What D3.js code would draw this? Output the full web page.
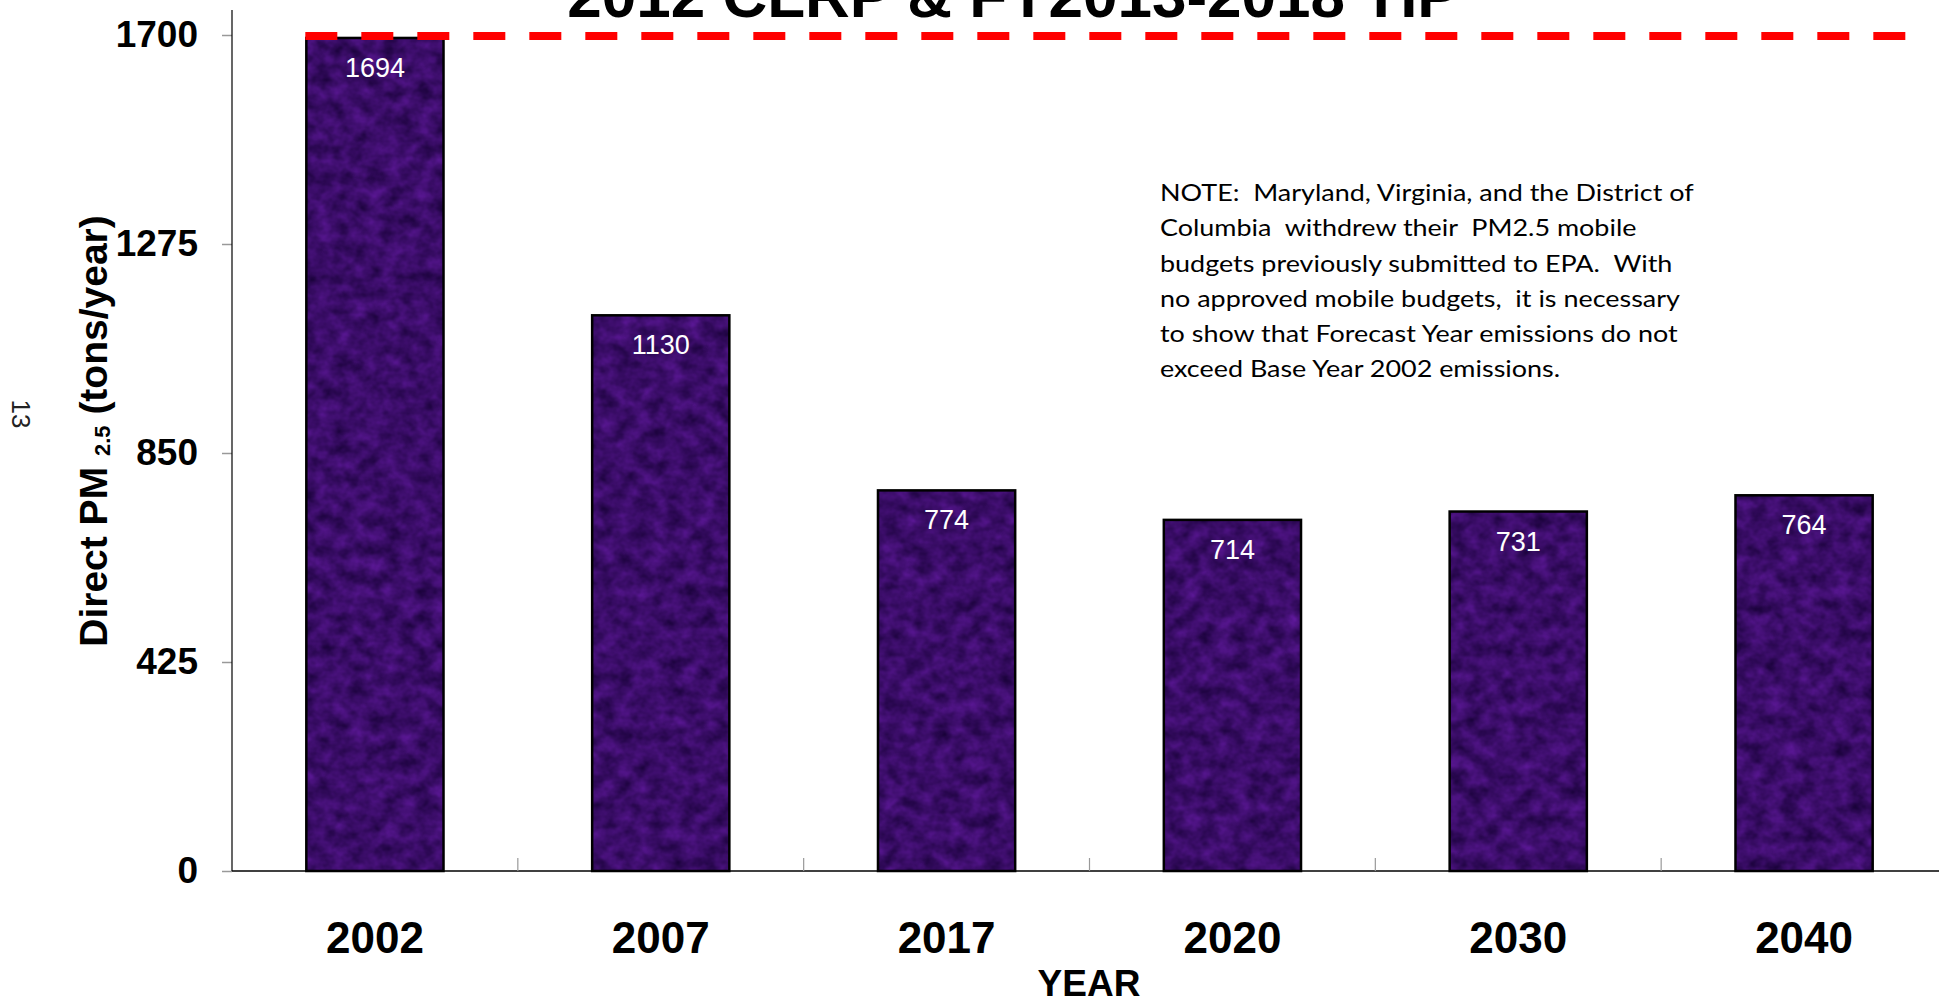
<!DOCTYPE html>
<html lang="en">
<head>
    <meta charset="UTF-8">
    <title>Direct PM2.5 emissions</title>
    <script src="https://d3js.org/d3.v7.min.js"></script>
    <style>
        body {
            margin: 0;
            background: white;
        }
        svg {
            display: block;
        }
        text {
            font-family: "Liberation Sans", Arial, sans-serif;
        }
    </style>
</head>
<body>
    <div id="chart"></div>

    <script>
        // chart values
        const years = ["2002", "2007", "2017", "2020", "2030", "2040"];
        const emissions = [1694, 1130, 774, 714, 731, 764];
        const yTicks = [0, 425, 850, 1275, 1700];
        const baseYearLine = 1698;
        const titleText = "2012 CLRP & FY2013-2018 TIP";
        const noteLines = [
            "NOTE:  Maryland, Virginia, and the District of",
            "Columbia  withdrew their  PM2.5 mobile",
            "budgets previously submitted to EPA.  With",
            "no approved mobile budgets,  it is necessary",
            "to show that Forecast Year emissions do not",
            "exceed Base Year 2002 emissions."
        ];

        const width = 1939;
        const height = 1001;
        // plot runs a little past the right edge of the page, like the original slide
        const plotLeft = 232, plotRight = 1947, plotTop = 35, plotBottom = 871;

        const svg = d3.select("#chart")
                      .append("svg")
                      .attr("width", width)
                      .attr("height", height);

        // purple mottled texture for the bars
        const defs = svg.append("defs");
        const filter = defs.append("filter")
            .attr("id", "purpleTexture")
            .attr("x", 0).attr("y", 0).attr("width", 1).attr("height", 1)
            .attr("color-interpolation-filters", "sRGB");
        filter.append("feTurbulence")
            .attr("type", "fractalNoise")
            .attr("baseFrequency", "0.06 0.07")
            .attr("numOctaves", 3)
            .attr("seed", 7)
            .attr("result", "noise");
        filter.append("feColorMatrix")
            .attr("in", "noise")
            .attr("type", "matrix")
            .attr("values", "0.3 0 0 0 0.08  0.1 0 0 0 0.0  0.42 0 0 0 0.2  0 0 0 0 1")
            .attr("result", "tinted");
        filter.append("feComposite")
            .attr("in", "tinted")
            .attr("in2", "SourceGraphic")
            .attr("operator", "in");

        const x = d3.scaleBand()
                    .domain(years)
                    .range([plotLeft, plotRight])
                    .paddingInner(0.52)
                    .paddingOuter(0.26);

        const y = d3.scaleLinear()
                    .domain([0, 1700])
                    .range([plotBottom, plotTop]);

        // title (top part is cut off by the page edge)
        svg.append("text")
           .attr("x", 1013)
           .attr("y", 17)
           .attr("text-anchor", "middle")
           .style("font-size", "62px")
           .style("font-weight", "bold")
           .text(titleText);

        // y axis
        const yAxis = svg.append("g")
            .attr("transform", `translate(${plotLeft},0)`)
            .call(d3.axisLeft(y).tickValues(yTicks).tickSize(10).tickPadding(24).tickFormat(d3.format("d")));
        yAxis.select(".domain").remove();
        yAxis.selectAll(".tick line").attr("stroke", "#999").attr("stroke-width", 1.5);
        yAxis.selectAll(".tick text")
             .attr("fill", "black")
             .style("font-size", "37px")
             .style("font-weight", "bold");
        svg.append("line")
           .attr("x1", plotLeft).attr("x2", plotLeft)
           .attr("y1", 10).attr("y2", plotBottom)
           .attr("stroke", "black").attr("stroke-width", 1.2);

        // bars
        const bars = svg.append("g")
            .selectAll("g")
            .data(years.map((yr, i) => ({ year: yr, value: emissions[i] })))
            .enter()
            .append("g");

        bars.append("rect")
            .attr("x", d => x(d.year))
            .attr("y", d => y(d.value))
            .attr("width", x.bandwidth())
            .attr("height", d => plotBottom - y(d.value))
            .attr("fill", "#3e1080")
            .attr("filter", "url(#purpleTexture)");

        bars.append("rect")
            .attr("x", d => x(d.year))
            .attr("y", d => y(d.value))
            .attr("width", x.bandwidth())
            .attr("height", d => plotBottom - y(d.value))
            .attr("fill", "none")
            .attr("stroke", "black")
            .attr("stroke-width", 2.5);

        bars.append("text")
            .attr("x", d => x(d.year) + x.bandwidth() / 2)
            .attr("y", d => y(d.value) + 39)
            .attr("text-anchor", "middle")
            .attr("fill", "white")
            .style("font-size", "27px")
            .text(d => d.value);

        // x axis line and the little dividers between categories
        svg.append("line")
           .attr("x1", plotLeft).attr("x2", width)
           .attr("y1", plotBottom).attr("y2", plotBottom)
           .attr("stroke", "black").attr("stroke-width", 1.5);

        const step = x.step();
        svg.append("g")
           .selectAll("line")
           .data(years.slice(1))
           .enter()
           .append("line")
           .attr("x1", d => x(d) - x.paddingInner() * step / 2)
           .attr("x2", d => x(d) - x.paddingInner() * step / 2)
           .attr("y1", plotBottom)
           .attr("y2", plotBottom - 13)
           .attr("stroke", "#999")
           .attr("stroke-width", 1.2);

        svg.append("g")
           .selectAll("text")
           .data(years)
           .enter()
           .append("text")
           .attr("x", d => x(d) + x.bandwidth() / 2)
           .attr("y", 953)
           .attr("text-anchor", "middle")
           .style("font-size", "44px")
           .style("font-weight", "bold")
           .text(d => d);

        svg.append("text")
           .attr("x", 1089)
           .attr("y", 996)
           .attr("text-anchor", "middle")
           .style("font-size", "37px")
           .style("font-weight", "bold")
           .text("YEAR");

        // y axis title with the subscript
        const yTitle = svg.append("text")
           .attr("transform", "translate(107,431) rotate(-90)")
           .attr("text-anchor", "middle")
           .style("font-size", "39px")
           .style("font-weight", "bold");
        yTitle.append("tspan").text("Direct PM ");
        yTitle.append("tspan").attr("dy", 3).style("font-size", "22px").text("2.5");
        yTitle.append("tspan").attr("dy", -3).text(" (tons/year)");

        // page number on the side
        svg.append("text")
           .attr("transform", "translate(12,414) rotate(90)")
           .attr("text-anchor", "middle")
           .attr("fill", "#222")
           .style("font-size", "26px")
           .text("13");

        // dashed base year line
        svg.append("line")
           .attr("x1", x(years[0]) - 1)
           .attr("x2", 1912)
           .attr("y1", y(baseYearLine))
           .attr("y2", y(baseYearLine))
           .attr("stroke", "#ff0000")
           .attr("stroke-width", 8)
           .attr("stroke-dasharray", "32 24");

        // note block
        const note = svg.append("g");
        const noteText = note.selectAll("text")
            .data(noteLines)
            .enter()
            .append("text")
            .attr("x", 0)
            .attr("y", (d, i) => 201 + i * 35.3)
            .attr("xml:space", "preserve")
            .style("white-space", "pre")
            .style("font-family", "Lato, 'Open Sans', sans-serif")
            .style("font-size", "23.5px")
            .text(d => d);
        const firstWidth = noteText.node().getComputedTextLength();
        note.attr("transform", `translate(1160,0) scale(${534 / firstWidth},1)`);
    </script>
</body>
</html>
